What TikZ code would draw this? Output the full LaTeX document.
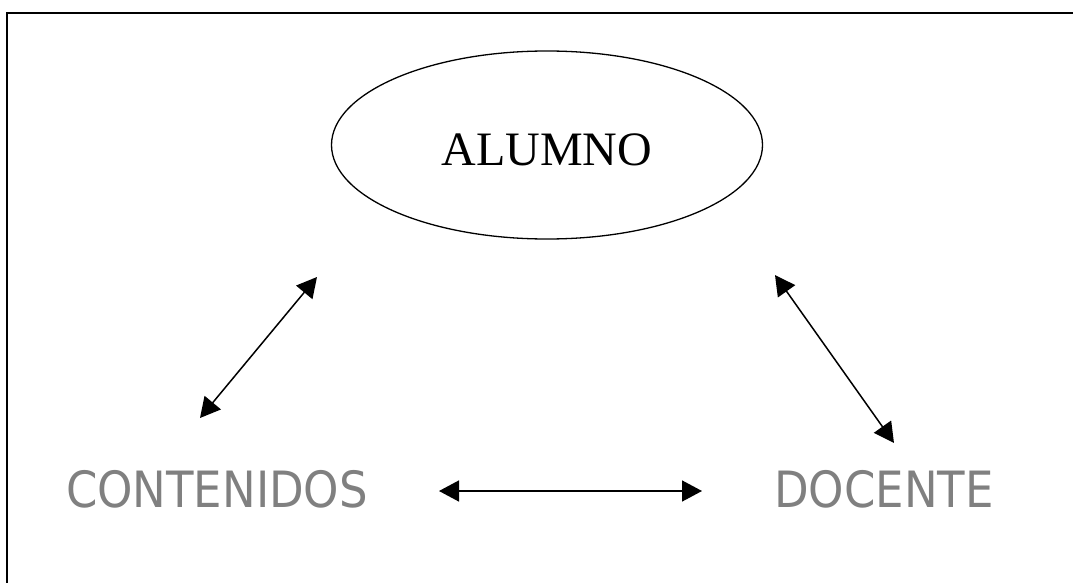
\documentclass[tikz,border=0pt]{standalone}
\usepackage{fontspec}
\setmainfont{Liberation Serif}
\newfontfamily\grayfont{DejaVu Sans Condensed}
\usepackage{tikz}
\usetikzlibrary{shapes.geometric}
\usetikzlibrary{arrows.meta}
\definecolor{labelgray}{RGB}{128,128,128}

\begin{document}
\begin{tikzpicture}[x=1pt,y=-1pt,
    corner/.style = {font=\grayfont\fontsize{50}{50}\selectfont,text=labelgray,inner sep=0pt},
    link/.style = {{Triangle[length=20pt,width=21pt]}-{Triangle[length=20pt,width=21pt]},line width=1.5pt}]
    {
    \useasboundingbox (0,0) rectangle (1073,583);
    \draw[line width=2pt] (7,583) -- (7,13) -- (1073,13);

    \node[draw,ellipse,line width=1.3pt,minimum width = 431pt,minimum height = 188pt,inner sep = 0pt](alumno) at (547,145) {};
    \node[font=\fontsize{48}{48}\selectfont,inner sep=0pt](alumnoText) at (alumno.center) [yshift=-5pt] {ALUMNO};
    \node[corner](contenidos) at (217,489) {CONTENIDOS};
    \node[corner](docente) at (884,489) {DOCENTE};

    \coordinate (leftTop) at (317,277);
    \coordinate (leftBottom) at (200,418);
    \coordinate (rightTop) at (775,275);
    \coordinate (rightBottom) at (894,443);
    \coordinate (midLeft) at (439,491);
    \coordinate (midRight) at (702,491);

    \draw [link] (leftBottom) -- (leftTop);
    \draw [link] (rightTop) -- (rightBottom);
    \draw [link] (midLeft) -- (midRight);
    }
\end{tikzpicture}
\end{document}
